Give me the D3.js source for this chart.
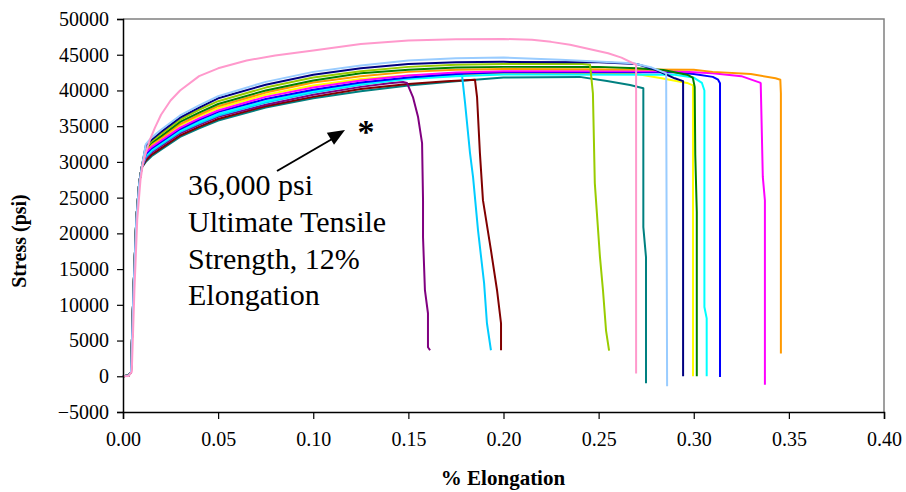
<!DOCTYPE html>
<html><head><meta charset="utf-8">
<script src="https://cdn.jsdelivr.net/npm/d3@7/dist/d3.min.js"></script>
<style>
body{margin:0;background:#fff}
svg{display:block;font-family:"Liberation Serif","Times New Roman",serif}
</style>
</head><body>
<svg id="chart" width="906" height="492"></svg>
<script>
// ---------- data ----------
const xTicks = [0.00, 0.05, 0.10, 0.15, 0.20, 0.25, 0.30, 0.35, 0.40];
const yTicks = [-5000, 0, 5000, 10000, 15000, 20000, 25000, 30000, 35000, 40000, 45000, 50000];

// shared elastic start (strain, stress)
const elasticStrain = [0, 0.003, 0.0042, 0.0055, 0.007, 0.0085, 0.0098];
const elasticStress = [0, 100, 600, 12000, 22000, 27000, 29200];

// each specimen: [strain, stress] after the elastic start
const yellow = [[0.012,31500],[0.015,32300],[0.02,33200],[0.03,35100],[0.04,36400],[0.05,37500],[0.075,39400],[0.1,40700],[0.125,41600],[0.15,42100],[0.175,42300],[0.2,42350],[0.27,42300],[0.2823,41750],[0.2965,41050],[0.2996,40700],[0.2996,0]];
const teal = [[0.012,30000],[0.015,30800],[0.02,31700],[0.03,33500],[0.04,34700],[0.05,35800],[0.075,37600],[0.1,38900],[0.125,39900],[0.15,40700],[0.175,41300],[0.2,41800],[0.24,41900],[0.2544,41320],[0.2665,40760],[0.2735,40300],[0.2735,20870],[0.2749,16670],[0.2749,-980]];
const darkRed = [[0.012,30200],[0.015,31000],[0.02,31900],[0.03,33700],[0.04,34900],[0.05,36000],[0.075,37800],[0.1,39100],[0.125,40200],[0.15,40900],[0.17,41300],[0.185,41500],[0.1861,39080],[0.1876,31230],[0.1892,24650],[0.1934,17650],[0.1966,12040],[0.1987,7420],[0.1987,3640]];
const purple = [[0.012,30500],[0.015,31300],[0.02,32200],[0.03,34000],[0.04,35200],[0.05,36300],[0.075,38000],[0.1,39400],[0.125,40500],[0.14,41000],[0.1472,41180],[0.1493,41040],[0.1524,39080],[0.1551,36270],[0.1572,32630],[0.1577,24650],[0.1577,19470],[0.1587,12040],[0.1603,8820],[0.1603,4060],[0.1614,3640]];
const skyBlue = [[0.012,30700],[0.015,31500],[0.02,32400],[0.03,34200],[0.04,35400],[0.05,36500],[0.075,38300],[0.1,39700],[0.125,40800],[0.15,41700],[0.165,42100],[0.1782,42150],[0.1798,38230],[0.1824,31230],[0.184,27870],[0.1866,20450],[0.1898,13030],[0.1913,7420],[0.1934,3640]];
const cyan = [[0.012,30900],[0.015,31700],[0.02,32600],[0.03,34400],[0.04,35600],[0.05,36700],[0.075,38500],[0.1,39900],[0.125,40900],[0.15,41600],[0.175,42000],[0.2,42250],[0.29,42200],[0.3,41800],[0.3043,41050],[0.3056,40000],[0.3056,9700],[0.3068,8100],[0.3068,0]];
const blue = [[0.012,31100],[0.015,31900],[0.02,32800],[0.03,34600],[0.04,35900],[0.05,37000],[0.075,38800],[0.1,40100],[0.125,41100],[0.15,41800],[0.175,42300],[0.2,42550],[0.29,42550],[0.3,42300],[0.31,41900],[0.3128,41500],[0.3138,41000],[0.3138,-100]];
const magenta = [[0.012,31300],[0.015,32100],[0.02,33000],[0.03,34800],[0.04,36100],[0.05,37200],[0.075,39100],[0.1,40400],[0.125,41400],[0.15,42100],[0.175,42500],[0.2,42700],[0.29,42700],[0.31,42400],[0.325,42000],[0.3348,41100],[0.3352,41000],[0.3363,27900],[0.3374,24600],[0.3374,-1200]];
const orange = [[0.012,31700],[0.015,32500],[0.02,33400],[0.03,35300],[0.04,36600],[0.05,37800],[0.075,39700],[0.1,41100],[0.125,42000],[0.15,42600],[0.175,42900],[0.2,43000],[0.3,42900],[0.31,42600],[0.33,42300],[0.343,41700],[0.3455,41500],[0.3458,39600],[0.3458,3200]];
const green = [[0.012,31900],[0.015,32700],[0.02,33600],[0.03,35600],[0.04,36900],[0.05,38100],[0.075,40000],[0.1,41400],[0.125,42400],[0.15,42900],[0.175,43200],[0.2,43300],[0.25,43300],[0.27,43100],[0.284,42850],[0.297,42150],[0.2995,41800],[0.3005,40500],[0.3008,31000],[0.3016,23000],[0.3016,0]];
const yellowGreen = [[0.012,32100],[0.015,32900],[0.02,33900],[0.03,35900],[0.04,37300],[0.05,38500],[0.075,40400],[0.1,41800],[0.125,42700],[0.15,43300],[0.175,43600],[0.2,43700],[0.24,43750],[0.2455,43600],[0.247,39600],[0.248,27000],[0.2507,16700],[0.2523,12000],[0.2539,6400],[0.2555,3600]];
const navy = [[0.012,32300],[0.015,33100],[0.02,34200],[0.03,36200],[0.04,37600],[0.05,38900],[0.075,40800],[0.1,42200],[0.125,43100],[0.15,43700],[0.175,43950],[0.2,44000],[0.25,43950],[0.27,43700],[0.28,42900],[0.29,41700],[0.2944,41300],[0.2944,0]];
const lightBlue = [[0.012,32500],[0.015,33400],[0.02,34500],[0.03,36500],[0.04,37900],[0.05,39200],[0.075,41200],[0.1,42600],[0.125,43500],[0.15,44200],[0.175,44500],[0.2,44600],[0.23,44300],[0.268,43800],[0.278,43200],[0.2855,42400],[0.286,-1400]];
const pink = [[0.012,31300],[0.014,33000],[0.0168,34800],[0.02,36600],[0.025,38600],[0.03,40000],[0.04,42000],[0.05,43100],[0.065,44200],[0.08,44900],[0.1,45600],[0.125,46500],[0.15,47000],[0.175,47150],[0.2,47200],[0.215,47100],[0.225,46800],[0.235,46400],[0.245,45800],[0.255,45200],[0.262,44600],[0.2697,43600],[0.2697,400]];
const pinkElastic = [[0,0],[0.003,50],[0.0046,600],[0.006,12000],[0.0075,22000],[0.0092,27500],[0.0105,29800]];

const seriesData   = [yellow, teal, darkRed, purple, skyBlue, cyan, blue, magenta, orange, green, yellowGreen, navy, lightBlue, pink];
const seriesColors = ["#FFFF00","#008080","#800000","#800080","#00CCFF","#00FFFF","#0000FF","#FF00FF","#FF9900","#008000","#99CC00","#000080","#99CCFF","#FF99CC"];

const annotationLines = ["36,000 psi", "Ultimate Tensile", "Strength, 12%", "Elongation"];

// ---------- drawing ----------
const svg = d3.select("#chart");
const x = d3.scaleLinear().domain([0, 0.40]).range([123, 884]);
const y = d3.scaleLinear().domain([-5000, 50000]).range([412, 19]);

// plot frame (gray top/right)
svg.append("path").attr("d", `M${x(0)},${y(50000)}H${x(0.4)}V${y(-5000)}`)
   .attr("fill","none").attr("stroke","#808080").attr("stroke-width",1.5);

const line = d3.line().x(d => x(d[0])).y(d => y(d[1]));
const elastic = elasticStrain.map((s,i) => [s, elasticStress[i]]);

const gLines = svg.append("g");
seriesData.forEach((pts, i) => {
  const start = pts === pink ? pinkElastic : elastic;
  gLines.append("path").datum(start.concat(pts))
    .attr("fill","none").attr("stroke", seriesColors[i])
    .attr("stroke-width", 2).attr("stroke-linejoin","round")
    .attr("d", line);
});

// axes
const yAxis = d3.axisLeft(y).tickValues(yTicks).tickFormat(d3.format("d")).tickSize(6).tickPadding(8);
const gy = svg.append("g").attr("transform", `translate(${x(0)},0)`).call(yAxis);
const xAxis = d3.axisBottom(x).tickValues(xTicks).tickFormat(d3.format(".2f")).tickSize(7).tickPadding(13);
const gx = svg.append("g").attr("transform", `translate(0,${y(-5000)})`).call(xAxis);
[gx, gy].forEach(g => {
  g.select(".domain").attr("stroke","#000").attr("stroke-width",1.5);
  g.selectAll(".tick line").attr("stroke","#000").attr("stroke-width",1.2);
  g.selectAll(".tick text").attr("fill","#000").style("font-family",'"Liberation Serif",serif').style("font-size","20px");
});

// axis titles
svg.append("text").attr("transform","translate(26,241) rotate(-90)")
  .attr("text-anchor","middle").style("font-weight","bold").style("font-size","20px").text("Stress (psi)");
svg.append("text").attr("x", 503).attr("y", 485)
  .attr("text-anchor","middle").style("font-weight","bold").style("font-size","21px").text("% Elongation");

// annotation
const ann = svg.append("text").style("font-size","30px").attr("fill","#000");
annotationLines.forEach((t, i) => {
  ann.append("tspan").attr("x", 188).attr("y", 195 + i * 36.8).text(t);
});
svg.append("line").attr("x1",277).attr("y1",171).attr("x2",333).attr("y2",138.5)
  .attr("stroke","#000").attr("stroke-width",2);
svg.append("path").attr("d","M345,130 L334,144.8 L326.8,132.8 Z").attr("fill","#000");
svg.append("text").attr("x",366).attr("y",143).attr("text-anchor","middle")
  .style("font-size","34px").style("font-weight","bold").text("*");
</script>
</body></html>
